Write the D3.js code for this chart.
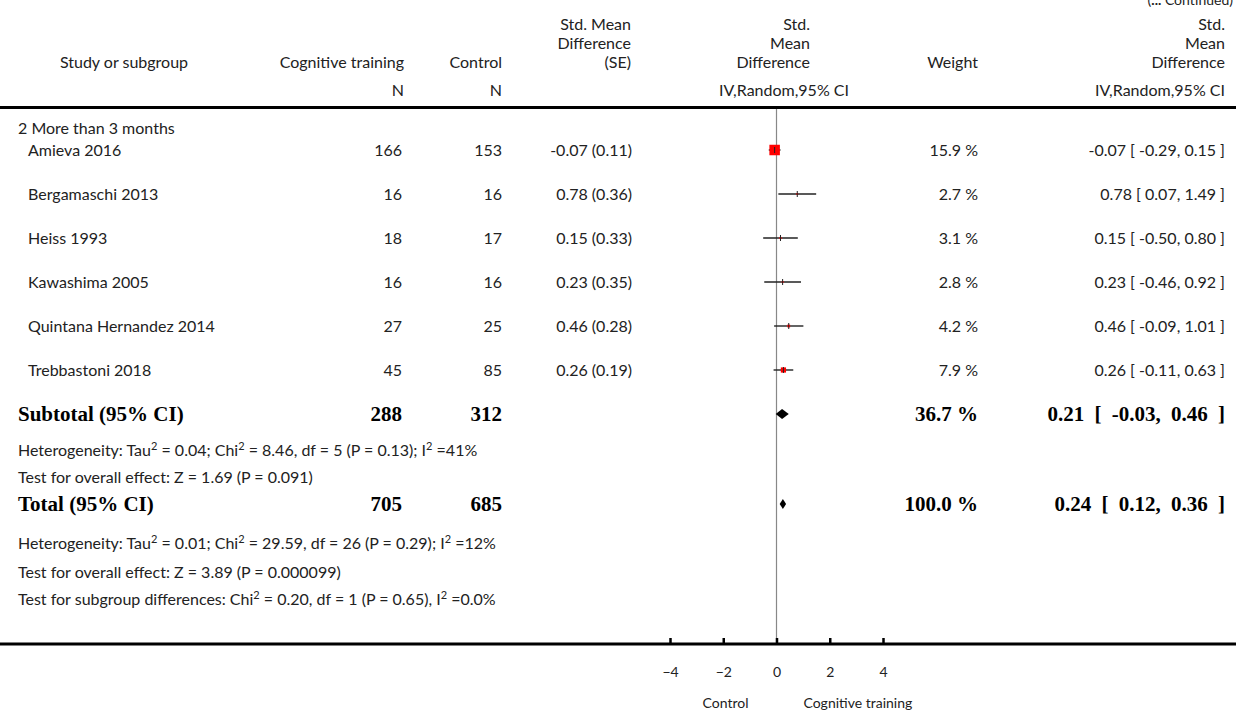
<!DOCTYPE html>
<html><head><meta charset="utf-8">
<script src="https://cdn.jsdelivr.net/npm/d3@7"></script>
<style>
html,body{margin:0;padding:0;background:#fff;}
svg{display:block;}
text{font-family:Lato,"Open Sans",sans-serif;fill:#222;}
.b{font-family:"Liberation Serif","DejaVu Serif",serif;font-weight:bold;fill:#000;}
</style></head>
<body>
<svg id="c" width="1236" height="712"></svg>
<script>
// ---- data ----
const groupLabel = "2 More than 3 months";
const studies = ["Amieva 2016","Bergamaschi 2013","Heiss 1993","Kawashima 2005","Quintana Hernandez 2014","Trebbastoni 2018"];
const nTraining = [166,16,18,16,27,45];
const nControl = [153,16,17,16,25,85];
const smd = [-0.07,0.78,0.15,0.23,0.46,0.26];
const se = [0.11,0.36,0.33,0.35,0.28,0.19];
const ciLow = [-0.29,0.07,-0.50,-0.46,-0.09,-0.11];
const ciHigh = [0.15,1.49,0.80,0.92,1.01,0.63];
const weights = [15.9,2.7,3.1,2.8,4.2,7.9];
const pooledLabels = ["Subtotal (95% CI)","Total (95% CI)"];
const pooledNTraining = [288,705];
const pooledNControl = [312,685];
const pooledEst = [0.21,0.24];
const pooledLow = [-0.03,0.12];
const pooledHigh = [0.46,0.36];
const pooledWeight = ["36.7 %","100.0 %"];
const ticks = [-4,-2,0,2,4];
const axisLabels = ["Control","Cognitive training"];

const svg = d3.select("#c");
const W = 1236;
const x = d3.scaleLinear().domain([-4,4]).range([670,883]);
const box = d3.scaleLinear().domain([0,15.9]).range([0,10.5]);
const fmt = d3.format(".2f");
const f2 = v => (v<0?"-":"")+fmt(Math.abs(v));
const FS = "16px";

// top right continued
const ct = svg.append("text").attr("x",1233).attr("y",5).attr("text-anchor","end").style("font-size","14px");
ct.append("tspan").text("(");
ct.append("tspan").style("font-weight","bold").text("...");
ct.append("tspan").text(" Continued)");

// headers
function header(xp, lines, anchor, yEnd){
  const t = svg.append("text").attr("text-anchor",anchor).style("font-size",FS);
  lines.forEach((l,i)=>{
    t.append("tspan").attr("x",xp).attr("y",yEnd-(lines.length-1-i)*19).attr("dy","0.35em").text(l);
  });
}
const hy = 62;
header(124,["Study or subgroup"],"middle",hy);
header(404,["Cognitive training"],"end",hy);
header(502,["Control"],"end",hy);
header(631,["Std. Mean","Difference","(SE)"],"end",hy);
header(810,["Std.","Mean","Difference"],"end",hy);
header(978,["Weight"],"end",hy);
header(1225,["Std.","Mean","Difference"],"end",hy);
const ny = 90;
[[404,"N","end"],[502,"N","end"],[784,"IV,Random,95% CI","middle"],[1225,"IV,Random,95% CI","end"]].forEach(d=>{
  svg.append("text").attr("x",d[0]).attr("y",ny).attr("dy","0.35em").attr("text-anchor",d[2]).style("font-size",FS).text(d[1]);
});
svg.append("line").attr("x1",0).attr("x2",W).attr("y1",107.5).attr("y2",107.5).attr("stroke","#000").attr("stroke-width",3);

// reference line
const axisY = 644;
svg.append("line").attr("x1",x(0)).attr("x2",x(0)).attr("y1",109).attr("y2",axisY).attr("stroke","#888").attr("stroke-width",1.2);

// group label
svg.append("text").attr("x",18).attr("y",128).attr("dy","0.35em").style("font-size",FS).text(groupLabel);

// study rows
const rowY = i => 150 + i*44;
studies.forEach((s,i)=>{
  const y = rowY(i);
  const t = (xx,txt,anchor)=>svg.append("text").attr("x",xx).attr("y",y).attr("dy","0.35em").attr("text-anchor",anchor).style("font-size",FS).text(txt);
  t(28,s,"start");
  t(402,nTraining[i],"end");
  t(502,nControl[i],"end");
  t(632,f2(smd[i])+" ("+fmt(se[i])+")","end");
  t(978,weights[i].toFixed(1)+" %","end");
  t(1225,f2(smd[i])+" [ "+f2(ciLow[i])+", "+f2(ciHigh[i])+" ]","end");
  svg.append("line").attr("x1",x(ciLow[i])).attr("x2",x(ciHigh[i])).attr("y1",y).attr("y2",y).attr("stroke","#222").attr("stroke-width",1.4);
  const s2 = box(weights[i]);
  svg.append("rect").attr("x",x(smd[i])-s2/2).attr("y",y-s2/2).attr("width",s2).attr("height",s2).attr("fill","#ff0000");
  svg.append("line").attr("x1",x(smd[i])).attr("x2",x(smd[i])).attr("y1",y-3).attr("y2",y+3).attr("stroke","#222").attr("stroke-width",1);
});

// pooled rows
const pooledY = [414, 504];
pooledLabels.forEach((lab,i)=>{
  const y = pooledY[i];
  const t = (xx,txt,anchor)=>svg.append("text").attr("class","b").attr("x",xx).attr("y",y).attr("dy","0.35em").attr("text-anchor",anchor).style("font-size","21px").text(txt);
  t(18,lab,"start");
  t(402,pooledNTraining[i],"end");
  t(502,pooledNControl[i],"end");
  t(978,pooledWeight[i],"end");
  t(1225,fmt(pooledEst[i])+" [ "+f2(pooledLow[i])+", "+f2(pooledHigh[i])+" ]","end").style("word-spacing","5px");
  const h = 5;
  const pts = [[x(pooledLow[i]),y],[x(pooledEst[i]),y-h],[x(pooledHigh[i]),y],[x(pooledEst[i]),y+h]];
  svg.append("path").attr("d",d3.line()(pts)+"Z").attr("fill","#000");
});

function note(y, parts){
  const t = svg.append("text").attr("x",18).attr("y",y).attr("dy","0.35em").style("font-size","16px");
  parts.forEach(p=>{
    if(typeof p === "string") t.append("tspan").text(p);
    else t.append("tspan").attr("baseline-shift","super").style("font-size","11px").text(p.sup);
  });
}
note(450,["Heterogeneity: Tau",{sup:"2"}," = 0.04; Chi",{sup:"2"}," = 8.46, df = 5 (P = 0.13); I",{sup:"2"}," =41%"]);
note(477,["Test for overall effect: Z = 1.69 (P = 0.091)"]);
note(543,["Heterogeneity: Tau",{sup:"2"}," = 0.01; Chi",{sup:"2"}," = 29.59, df = 26 (P = 0.29); I",{sup:"2"}," =12%"]);
note(572,["Test for overall effect: Z = 3.89 (P = 0.000099)"]);
note(599,["Test for subgroup differences: Chi",{sup:"2"}," = 0.20, df = 1 (P = 0.65), I",{sup:"2"}," =0.0%"]);

// axis
const ax = svg.append("g").attr("transform",`translate(0,${axisY})`)
  .call(d3.axisBottom(x).tickValues(ticks).tickSizeInner(-6).tickSizeOuter(0).tickPadding(23).tickFormat(d3.format("d")));
ax.select(".domain").remove();
ax.selectAll(".tick line").attr("stroke","#000").attr("stroke-width",2.5);
ax.selectAll(".tick text").style("font-family","Lato,sans-serif").style("font-size","14px").attr("fill","#333");
svg.append("line").attr("x1",0).attr("x2",W).attr("y1",axisY).attr("y2",axisY).attr("stroke","#000").attr("stroke-width",3);

svg.append("text").attr("x",x(0)-28).attr("y",703).attr("dy","0.35em").attr("text-anchor","end").style("font-size","14px").text(axisLabels[0]);
svg.append("text").attr("x",x(0)+27).attr("y",703).attr("dy","0.35em").attr("text-anchor","start").style("font-size","14px").text(axisLabels[1]);
</script>
</body></html>
